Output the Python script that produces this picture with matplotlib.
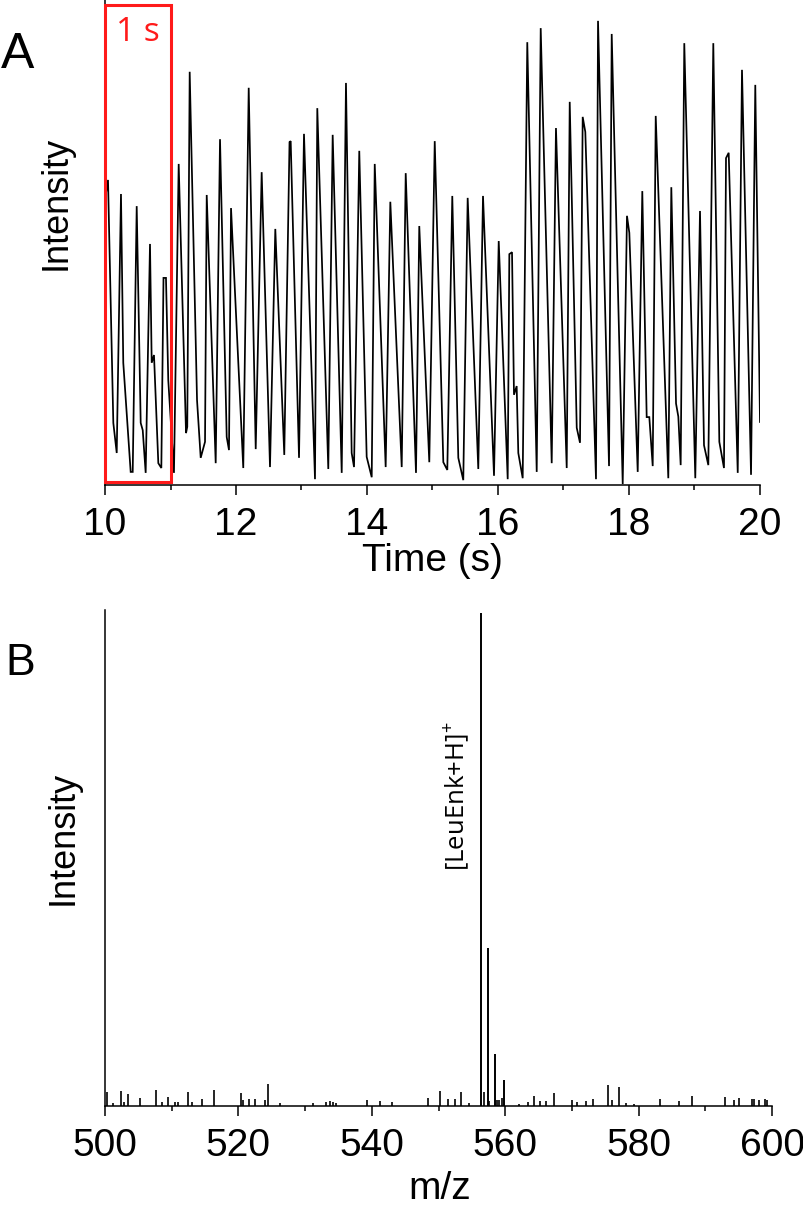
import matplotlib
matplotlib.use('Agg')
import matplotlib.pyplot as plt
from matplotlib.patches import Rectangle
from matplotlib.ticker import MultipleLocator

plt.rcParams['font.family'] = ['Liberation Sans', 'DejaVu Sans']
plt.rcParams['mathtext.fontset'] = 'custom'
plt.rcParams['mathtext.rm'] = 'Open Sans'
plt.rcParams['mathtext.it'] = 'Open Sans'

# ---------------- Panel A: intensity trace vs time ----------------
time_s = [
    10.000, 10.046, 10.127, 10.179, 10.244, 10.279, 10.392, 10.423, 10.484, 10.545,
    10.576, 10.621, 10.687, 10.713, 10.748, 10.814, 10.860, 10.893, 10.931, 10.966,
    11.053, 11.125, 11.237, 11.256, 11.293, 11.405, 11.461, 11.527, 11.553, 11.690,
    11.756, 11.858, 11.893, 11.924, 12.111, 12.194, 12.301, 12.392, 12.519, 12.600,
    12.737, 12.817, 12.835, 12.962, 13.038, 13.206, 13.241, 13.409, 13.476, 13.614,
    13.679, 13.766, 13.802, 13.882, 13.995, 14.072, 14.118, 14.285, 14.356, 14.530,
    14.591, 14.748, 14.798, 14.951, 15.034, 15.165, 15.226, 15.302, 15.394, 15.470,
    15.537, 15.699, 15.771, 15.939, 16.011, 16.148, 16.173, 16.214, 16.244, 16.285,
    16.310, 16.377, 16.447, 16.591, 16.652, 16.820, 16.885, 17.049, 17.095, 17.202,
    17.252, 17.293, 17.333, 17.496, 17.527, 17.695, 17.736, 17.904, 17.969, 18.005,
    18.133, 18.203, 18.270, 18.310, 18.362, 18.408, 18.600, 18.646, 18.718, 18.753,
    18.789, 18.844, 19.012, 19.084, 19.145, 19.211, 19.287, 19.379, 19.450, 19.481,
    19.522, 19.660, 19.725, 19.863, 19.928, 20.000]
intensity_a = [
    58.8, 62.9, 12.8, 6.6, 60.0, 25.2, 2.7, 2.7, 57.5, 12.8,
    11.3, 2.5, 49.7, 25.2, 26.8, 4.5, 3.5, 42.7, 42.7, 21.6,
    2.5, 66.2, 10.7, 12.0, 85.2, 17.5, 5.6, 8.9, 59.8, 4.5,
    71.3, 9.9, 7.2, 57.1, 3.5, 81.9, 7.4, 64.5, 3.7, 52.8,
    6.2, 70.7, 70.9, 5.6, 72.4, 1.2, 77.7, 3.3, 72.2, 2.5,
    82.9, 6.6, 3.7, 68.9, 5.8, 1.6, 66.2, 3.7, 58.4, 3.7,
    64.3, 2.5, 53.4, 4.7, 70.9, 4.7, 3.1, 59.6, 5.6, 1.0,
    59.2, 3.3, 59.6, 1.9, 50.3, 1.2, 47.6, 48.0, 18.6, 20.4,
    6.6, 1.4, 91.3, 2.7, 94.2, 4.5, 73.6, 3.5, 79.0, 11.8,
    8.7, 75.9, 72.8, 1.2, 95.7, 3.9, 93.0, 0.2, 55.5, 52.0,
    2.7, 60.6, 14.0, 14.0, 3.9, 76.1, 1.4, 61.4, 16.8, 14.1,
    4.1, 91.1, 1.4, 56.5, 8.2, 4.1, 91.1, 8.9, 3.5, 67.4,
    68.5, 2.5, 85.6, 2.1, 82.5, 13.0]
assert len(time_s) == len(intensity_a)

a_xticks = [10, 12, 14, 16, 18, 20]
box_t0, box_t1 = 10.0, 11.0

# ---------------- Panel B: mass spectrum ----------------
mz_major = [556.37, 557.42, 558.42, 559.78]
int_major = [100.0, 32.0, 10.5, 5.3]
mz_minor = [500.25, 501.15, 502.4, 502.8, 503.4, 505.2, 507.6, 508.5, 509.5, 510.5,
            511.0, 512.5, 513.0, 514.5, 516.4, 520.35, 520.7, 521.55, 522.45, 523.95,
            524.45, 526.2, 531.2, 533.2, 533.7, 534.2, 534.6, 539.3, 541.3, 543.05,
            548.4, 550.2, 551.4, 552.5, 553.4, 554.6, 556.8, 557.6, 558.7, 559.0,
            559.45, 562.1, 563.35, 564.25, 565.2, 566.1, 567.35, 570.0, 570.8, 572.1,
            573.2, 575.35, 576.05, 577.1, 578.05, 579.3, 583.2, 586.05, 588.0, 593.0,
            594.3, 595.1, 597.0, 597.3, 598.1, 599.0, 599.25]
int_minor = [2.9, 0.7, 3.1, 0.9, 2.4, 1.6, 3.2, 0.9, 1.9, 0.9,
             0.9, 2.9, 0.9, 1.4, 3.2, 2.7, 1.2, 1.4, 1.4, 1.2,
             4.5, 0.7, 0.7, 0.9, 1.0, 0.9, 0.7, 1.3, 1.0, 0.9,
             1.6, 3.1, 1.5, 1.5, 2.9, 0.7, 2.9, 1.1, 1.2, 1.2,
             1.7, 0.5, 0.9, 2.0, 1.1, 1.1, 2.6, 1.3, 0.9, 1.1,
             1.5, 4.3, 1.2, 3.8, 0.7, 0.5, 1.5, 1.1, 2.1, 1.8,
             1.2, 1.6, 1.4, 1.5, 1.2, 1.4, 1.2]
assert len(mz_minor) == len(int_minor)
b_xticks = [500, 520, 540, 560, 580, 600]
peak_label = r'[LeuEnk+H]$^{+}$'

FS = 28
fig = plt.figure(figsize=(8.04, 12.06), dpi=100)

# ---- Panel A ----
axA = fig.add_axes([105/804, 1 - 485/1206, 655/804, 485/1206])
axA.plot(time_s, intensity_a, color='black', lw=1.25, solid_joinstyle='miter')
axA.set_xlim(10, 20)
axA.set_ylim(0, 100)
axA.set_xticks(a_xticks)
axA.xaxis.set_minor_locator(MultipleLocator(1))
axA.set_yticks([])
for s in ['top', 'right']:
    axA.spines[s].set_visible(False)
for s in ['left', 'bottom']:
    axA.spines[s].set_linewidth(1.1)
axA.tick_params(axis='x', which='major', direction='out', length=7.2, width=1.1,
                labelsize=FS, pad=8.5)
axA.tick_params(axis='x', which='minor', direction='out', length=3.6, width=1.1)
axA.add_patch(Rectangle((box_t0, 0.6), box_t1 - box_t0, 98.4, fill=False,
                        edgecolor='#ff1a1a', lw=2.2, zorder=5, clip_on=False))
axA.text(10.5, 93.4, '1 s', color='#ff1a1a', fontsize=24, family='Open Sans',
         ha='center', va='center')

# ---- Panel B ----
axB = fig.add_axes([105/804, 100/1206, 667/804, 496/1206])
axB.vlines(mz_minor, 0, int_minor, color='black', lw=1.2)
axB.vlines(mz_major, 0, int_major, color='black', lw=1.4)
axB.set_xlim(500, 600)
axB.set_ylim(0, 100.6)
axB.set_xticks(b_xticks)
axB.xaxis.set_minor_locator(MultipleLocator(10))
axB.set_yticks([])
for s in ['top', 'right']:
    axB.spines[s].set_visible(False)
for s in ['left', 'bottom']:
    axB.spines[s].set_linewidth(1.1)
axB.tick_params(axis='x', which='major', direction='out', length=7.2, width=1.1,
                labelsize=FS, pad=8.5)
axB.tick_params(axis='x', which='minor', direction='out', length=3.6, width=1.1)
axB.text(552.8, 62.9, peak_label, rotation=90, fontsize=18.5, family='Open Sans',
         ha='center', va='center')

# ---- labels ----
fig.text(1/804, 1 - 68/1206, 'A', fontsize=36, ha='left', va='baseline')
fig.text(5/804, 1 - 675/1206, 'B', fontsize=32, ha='left', va='baseline')
fig.text(56/804, 1 - 203/1206, 'Intensity', rotation=90, fontsize=26,
         ha='center', va='center')
fig.text(63/804, 1 - 838/1206, 'Intensity', rotation=90, fontsize=26,
         ha='center', va='center')
fig.text(432/804, 1 - 561/1206, 'Time (s)', fontsize=FS, ha='center', va='center')
fig.text(440/804, 1 - 1189/1206, 'm/z', fontsize=FS, ha='center', va='center')

fig.savefig('out.png', dpi=100)
